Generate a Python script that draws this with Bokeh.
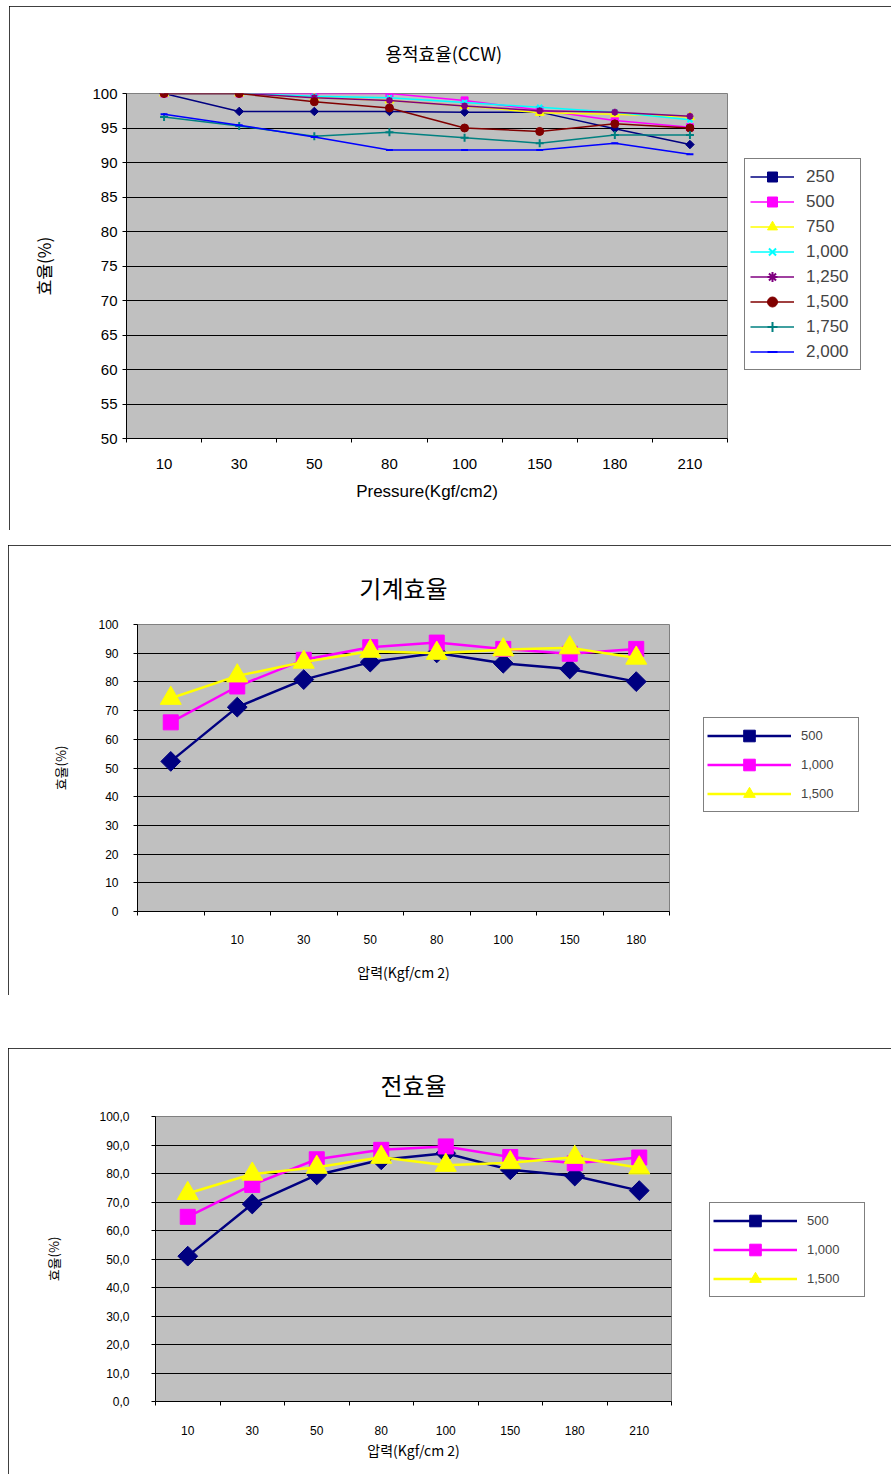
from bokeh.plotting import figure
from bokeh.models import FixedTicker, Legend, LegendItem, Title
from bokeh.embed import file_html
from bokeh.resources import INLINE

KR = "Noto Sans CJK KR"
NUM = "Liberation Sans"

# ---------------- Chart 1 data ----------------
title_1 = "용적효율(CCW)"
pressure_1 = ["10", "30", "50", "80", "100", "150", "180", "210"]
y_ticks_1 = [50, 55, 60, 65, 70, 75, 80, 85, 90, 95, 100]
names_1 = ["250", "500", "750", "1,000", "1,250", "1,500", "1,750", "2,000"]
eff_250 = [100, 97.4, 97.4, 97.4, 97.3, 97.3, 94.9, 92.6]
eff_500 = [100, 100, 100, 100, 99.0, 97.6, 96.1, 95.1]
eff_750 = [100, 100, 99.4, 99.0, 98.2, 97.2, 97.0, 96.6]
eff_1000 = [100, 100, 99.6, 99.4, 98.7, 98.0, 97.3, 96.2]
eff_1250 = [100, 100, 99.4, 99.0, 98.2, 97.5, 97.3, 96.7]
eff_1500 = [100, 100, 98.8, 97.9, 95.0, 94.5, 95.6, 95.0]
eff_1750 = [96.6, 95.3, 93.8, 94.4, 93.6, 92.8, 94.0, 94.0]
eff_2000 = [97.0, 95.4, 93.7, 91.8, 91.8, 91.8, 92.8, 91.2]

# ---------------- Chart 2 data ----------------
title_2 = "기계효율"
pressure_2 = ["", "10", "30", "50", "80", "100", "150", "180"]
y_ticks_2 = [0, 10, 20, 30, 40, 50, 60, 70, 80, 90, 100]
names_2 = ["500", "1,000", "1,500"]
mech_500 = [52.3, 71.2, 80.8, 86.9, 90.1, 86.5, 84.5, 80.1]
mech_1000 = [65.9, 78.4, 87.7, 92.1, 93.7, 91.5, 89.8, 91.5]
mech_1500 = [74.3, 82.1, 86.9, 90.7, 90.0, 91.2, 91.9, 88.3]

# ---------------- Chart 3 data ----------------
title_3 = "전효율"
pressure_3 = ["10", "30", "50", "80", "100", "150", "180", "210"]
y_ticks_3 = [0, 10, 20, 30, 40, 50, 60, 70, 80, 90, 100]
y_labels_3 = ["0,0", "10,0", "20,0", "30,0", "40,0", "50,0", "60,0", "70,0", "80,0", "90,0", "100,0"]
names_3 = ["500", "1,000", "1,500"]
total_500 = [51.0, 69.3, 79.5, 84.8, 87.1, 81.3, 79.1, 74.0]
total_1000 = [64.8, 76.0, 85.0, 88.3, 89.5, 85.8, 83.6, 85.6]
total_1500 = [73.0, 79.8, 82.2, 85.7, 82.9, 83.8, 85.7, 82.0]

OUTLINE = {"outline": "1px solid black", "outline-offset": "-1px"}


def base_fig(fw, fh, left, right, top, bottom, y_lo, y_hi, n, margin):
    p = figure(frame_width=fw, frame_height=fh, x_range=(0.5, n + 0.5), y_range=(y_lo, y_hi),
               output_backend="svg", toolbar_location=None,
               min_border_left=left, min_border_right=right,
               min_border_top=top, min_border_bottom=bottom,
               background_fill_color="#C0C0C0", border_fill_color="white",
               outline_line_color="#808080", styles=OUTLINE, margin=margin)
    p.xgrid.visible = False
    p.ygrid.grid_line_color = "black"
    p.ygrid.grid_line_width = 1
    for ax in (p.xaxis[0], p.yaxis[0]):
        ax.axis_line_color = "black"
        ax.major_label_text_color = "black"
        ax.axis_label_text_font_style = "normal"
        ax.axis_label_text_color = "black"
    return p


def add_title(p, text, size, standoff, align="center", offset=0):
    t = Title(text=text, text_font=KR, text_font_size=size, text_font_style="normal",
              text_color="black", align=align, offset=offset, standoff=standoff)
    p.add_layout(t, "above")


def style_x(p, labels, size):
    xs = list(range(1, len(labels) + 1))
    p.xaxis.ticker = FixedTicker(ticks=xs, minor_ticks=[x + 0.5 for x in range(0, len(labels) + 1)])
    p.xaxis.major_label_overrides = {x: lab for x, lab in zip(xs, labels)}
    p.xaxis.major_tick_line_color = None
    p.xaxis.minor_tick_line_color = "black"
    p.xaxis.minor_tick_in = 0
    p.xaxis.minor_tick_out = 4
    p.xaxis.major_label_text_font = NUM
    p.xaxis.major_label_text_font_size = size
    return xs


def style_y(p, ticks, size):
    p.yaxis.ticker = FixedTicker(ticks=ticks, minor_ticks=[])
    p.yaxis.major_tick_in = 0
    p.yaxis.major_tick_out = 4
    p.yaxis.major_tick_line_color = "black"
    p.yaxis.major_label_text_font = NUM
    p.yaxis.major_label_text_font_size = size
    p.yaxis.axis_label_text_font = KR


# ================= Chart 1 =================
p1 = base_fig(601, 345, 117, 150, 87, 92, 50, 100, len(pressure_1), (6, 0, 0, 9))
xs1 = style_x(p1, pressure_1, "15px")
style_y(p1, y_ticks_1, "15px")
p1.yaxis.major_label_standoff = 5
p1.xaxis.major_label_standoff = 14
p1.yaxis.axis_label = "효율(%)"
p1.yaxis.axis_label_text_font_size = "17px"
p1.yaxis.axis_label_standoff = 33
p1.xaxis.axis_label = "Pressure(Kgf/cm2)"
p1.xaxis.axis_label_text_font = NUM
p1.xaxis.axis_label_text_font_size = "17px"
p1.xaxis.axis_label_standoff = 10
add_title(p1, title_1, "18px", 56, align="left", offset=259)

series_1 = [eff_250, eff_500, eff_750, eff_1000, eff_1250, eff_1500, eff_1750, eff_2000]
colors_1 = ["#000080", "#FF00FF", "#FFFF00", "#00FFFF", "#800080", "#800000", "#008080", "#0000FF"]
markers_1 = [("square", 6, 0.785), ("square", 7, 0), ("triangle", 9, 0), ("x", 7, 0),
             ("asterisk", 7, 0), ("circle", 8, 0), ("cross", 8, 0), ("dash", 7, 0)]
items_1 = []
for name, vals, col, (mk, sz, ang) in zip(names_1, series_1, colors_1, markers_1):
    lr = p1.line(xs1, vals, line_color=col, line_width=1.5)
    sr = p1.scatter(xs1, vals, marker=mk, size=sz, angle=ang, fill_color=col,
                    line_color=col, line_width=2 if mk in ("x", "asterisk", "cross", "dash") else 1)
    items_1.append(LegendItem(label=name, renderers=[lr, sr]))
leg1 = Legend(items=items_1, location=(17, 68), margin=0, padding=5, spacing=0,
              glyph_width=44, glyph_height=25, label_height=25, label_standoff=12, label_width=49,
              label_text_font=NUM, label_text_font_size="17px",
              border_line_color="black", border_line_width=1, background_fill_color="white",
              background_fill_alpha=1)
p1.add_layout(leg1, "right")

# ================= Chart 2 =================
p2 = base_fig(532, 287, 129, 208, 79, 84, 0, 100, len(pressure_2), (15, 0, 0, 8))
xs2 = style_x(p2, pressure_2, "12px")
style_y(p2, y_ticks_2, "12px")
p2.yaxis.major_label_standoff = 15
p2.xaxis.major_label_standoff = 17
p2.yaxis.axis_label = "효율(%)"
p2.yaxis.axis_label_text_font_size = "13px"
p2.yaxis.axis_label_standoff = 25
p2.xaxis.axis_label = "압력(Kgf/cm 2)"
p2.xaxis.axis_label_text_font = KR
p2.xaxis.axis_label_text_font_size = "14px"
p2.xaxis.axis_label_standoff = 15
add_title(p2, title_2, "24px", 40)

# ================= Chart 3 =================
p3 = base_fig(516, 285, 147, 209, 68, 73, 0, 100, len(pressure_3), (53, 0, 0, 8))
xs3 = style_x(p3, pressure_3, "12px")
style_y(p3, y_ticks_3, "12px")
p3.yaxis.major_label_overrides = {t: lab for t, lab in zip(y_ticks_3, y_labels_3)}
p3.yaxis.major_label_standoff = 22
p3.xaxis.major_label_standoff = 18
p3.yaxis.axis_label = "효율(%)"
p3.yaxis.axis_label_text_font_size = "13px"
p3.yaxis.axis_label_standoff = 33
p3.xaxis.axis_label = "압력(Kgf/cm 2)"
p3.xaxis.axis_label_text_font = KR
p3.xaxis.axis_label_text_font_size = "14px"
p3.xaxis.axis_label_standoff = 2
add_title(p3, title_3, "24px", 30)

colors_23 = ["#000080", "#FF00FF", "#FFFF00"]
markers_23 = [("square", 14, 0.785), ("square", 15, 0), ("triangle", 21, 0)]


def add_series(p, xs, names, series, loc):
    items = []
    for name, vals, col, (mk, sz, ang) in zip(names, series, colors_23, markers_23):
        lr = p.line(xs, vals, line_color=col, line_width=2.5)
        sr = p.scatter(xs, vals, marker=mk, size=sz, angle=ang, fill_color=col, line_color=col)
        items.append(LegendItem(label=name, renderers=[lr, sr]))
    leg = Legend(items=items, location=loc, margin=0, padding=3, spacing=0,
                 glyph_width=84, glyph_height=29, label_height=29, label_standoff=10, label_width=54,
                 label_text_font=NUM, label_text_font_size="13px",
                 border_line_color="black", border_line_width=1, background_fill_color="white",
                 background_fill_alpha=1)
    p.add_layout(leg, "right")


add_series(p2, xs2, names_2, [mech_500, mech_1000, mech_1500], (34, 99))
add_series(p3, xs3, names_3, [total_500, total_1000, total_1500], (38, 104))

open("out.html", "w").write(file_html([p1, p2, p3], INLINE))
